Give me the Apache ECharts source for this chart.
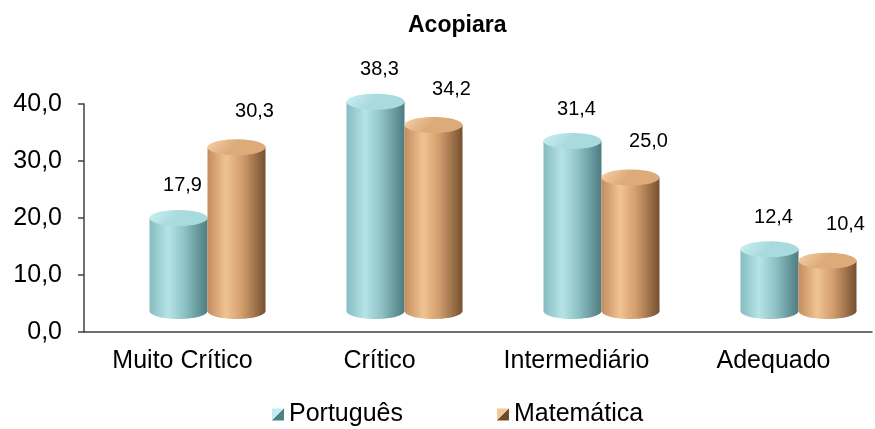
<!DOCTYPE html>
<html>
<head>
<meta charset="utf-8">
<script src="https://cdn.jsdelivr.net/npm/echarts@6/dist/echarts.min.js"></script>
<style>
    html, body { margin: 0; padding: 0; background: #fff; }
    #chart { width: 875px; height: 429px; }
</style>
</head>
<body>
<div id="chart"></div>
<script>
const categories = ['Muito Crítico', 'Crítico', 'Intermediário', 'Adequado'];
const portugues = [17.9, 38.3, 31.4, 12.4];
const matematica = [30.3, 34.2, 25.0, 10.4];
const seriesNames = ['Português', 'Matemática'];

const FONT = '"Liberation Sans", Arial, sans-serif';

// cores dos cilindros
const palette = {
    'Português': {
        body: ['#86bcc0', '#b6e4e6', '#8ec2c6', '#4d7b80'],
        top: ['#cdf1f2', '#a9dbde'],
        icon: ['#c2ecee', '#4f8086']
    },
    'Matemática': {
        body: ['#c38d5e', '#f1c393', '#d29d6d', '#75502f'],
        top: ['#f6d2a8', '#ddab7a'],
        icon: ['#f2c89a', '#6e4a2b']
    }
};

function fmt(v) {
    return v.toFixed(1).replace('.', ',');
}

function lg(x2, y2, stops) {
    return new echarts.graphic.LinearGradient(0, 0, x2, y2, stops);
}

function cylinder(name, dx, labelDx, labelDy) {
    let c = palette[name];
    let bodyFill = lg(1, 0, [
        {offset: 0, color: c.body[0]},
        {offset: 0.32, color: c.body[1]},
        {offset: 0.6, color: c.body[2]},
        {offset: 1, color: c.body[3]}
    ]);
    return function (params, api) {
        let v = api.value(1);
        let p = api.coord([api.value(0), v]);
        let b = api.coord([api.value(0), 0]);
        let cx = p[0] + dx;
        let rx = 29, ry = 8;
        let topY = p[1] - 12;
        let botY = b[1] - 21;
        return {
            type: 'group',
            children: [{
                type: 'ellipse',
                shape: {cx: cx, cy: botY, rx: rx, ry: ry},
                style: {fill: bodyFill}
            }, {
                type: 'rect',
                shape: {x: cx - rx, y: topY, width: rx * 2, height: botY - topY},
                style: {fill: bodyFill}
            }, {
                type: 'ellipse',
                shape: {cx: cx, cy: topY, rx: rx, ry: ry},
                style: {
                    fill: lg(0.3, 1, [
                        {offset: 0, color: c.top[0]},
                        {offset: 1, color: c.top[1]}
                    ])
                }
            }, {
                type: 'text',
                style: {
                    text: fmt(v),
                    x: p[0] + dx + labelDx,
                    y: p[1] + labelDy,
                    fill: '#000',
                    font: '20px ' + FONT,
                    align: 'center',
                    verticalAlign: 'middle',
                    textAlign: 'center',
                    textVerticalAlign: 'middle'
                }
            }]
        };
    };
}

function toPairs(arr) {
    return arr.map(function (v, i) { return [i, v]; });
}

function iconColor(name) {
    let c = palette[name].icon;
    return lg(1, 1, [
        {offset: 0, color: c[0]},
        {offset: 0.5, color: c[0]},
        {offset: 0.5, color: c[1]},
        {offset: 1, color: c[1]}
    ]);
}

let myChart = echarts.init(document.getElementById('chart'));

let option = {
    animation: false,
    backgroundColor: '#fff',
    title: {
        text: 'Acopiara',
        left: 408,
        top: 14,
        padding: 0,
        textStyle: {fontFamily: FONT, fontSize: 23, fontWeight: 'bold', color: '#000'}
    },
    legend: {
        left: 272,
        top: 402,
        padding: 0,
        itemWidth: 12,
        itemHeight: 12,
        itemGap: 94,
        icon: 'rect',
        textStyle: {fontFamily: FONT, fontSize: 25, color: '#000'},
        data: seriesNames.map(function (n) {
            return {name: n, itemStyle: {color: iconColor(n)}};
        })
    },
    grid: {left: 84, right: 3, top: 104, bottom: 97},
    xAxis: {
        type: 'category',
        data: categories,
        axisLine: {lineStyle: {color: '#404040', width: 1.5}},
        axisTick: {length: 6, lineStyle: {color: '#404040', width: 1.5}},
        axisLabel: {fontFamily: FONT, fontSize: 25, color: '#000', margin: 17}
    },
    yAxis: {
        type: 'value',
        min: 0,
        max: 40,
        interval: 10,
        splitLine: {show: false},
        axisLine: {show: true, lineStyle: {color: '#404040', width: 1.5}},
        axisTick: {show: true, length: 6, lineStyle: {color: '#404040', width: 1.5}},
        axisLabel: {
            fontFamily: FONT, fontSize: 25, color: '#000', margin: 22,
            formatter: function (v) { return fmt(v); }
        }
    },
    series: [{
        name: 'Português',
        type: 'custom',
        renderItem: cylinder('Português', -4, 4, -44),
        itemStyle: {color: iconColor('Português')},
        data: toPairs(portugues)
    }, {
        name: 'Matemática',
        type: 'custom',
        renderItem: cylinder('Matemática', 54, 18, -48),
        itemStyle: {color: iconColor('Matemática')},
        data: toPairs(matematica)
    }]
};

myChart.setOption(option);
</script>
</body>
</html>
